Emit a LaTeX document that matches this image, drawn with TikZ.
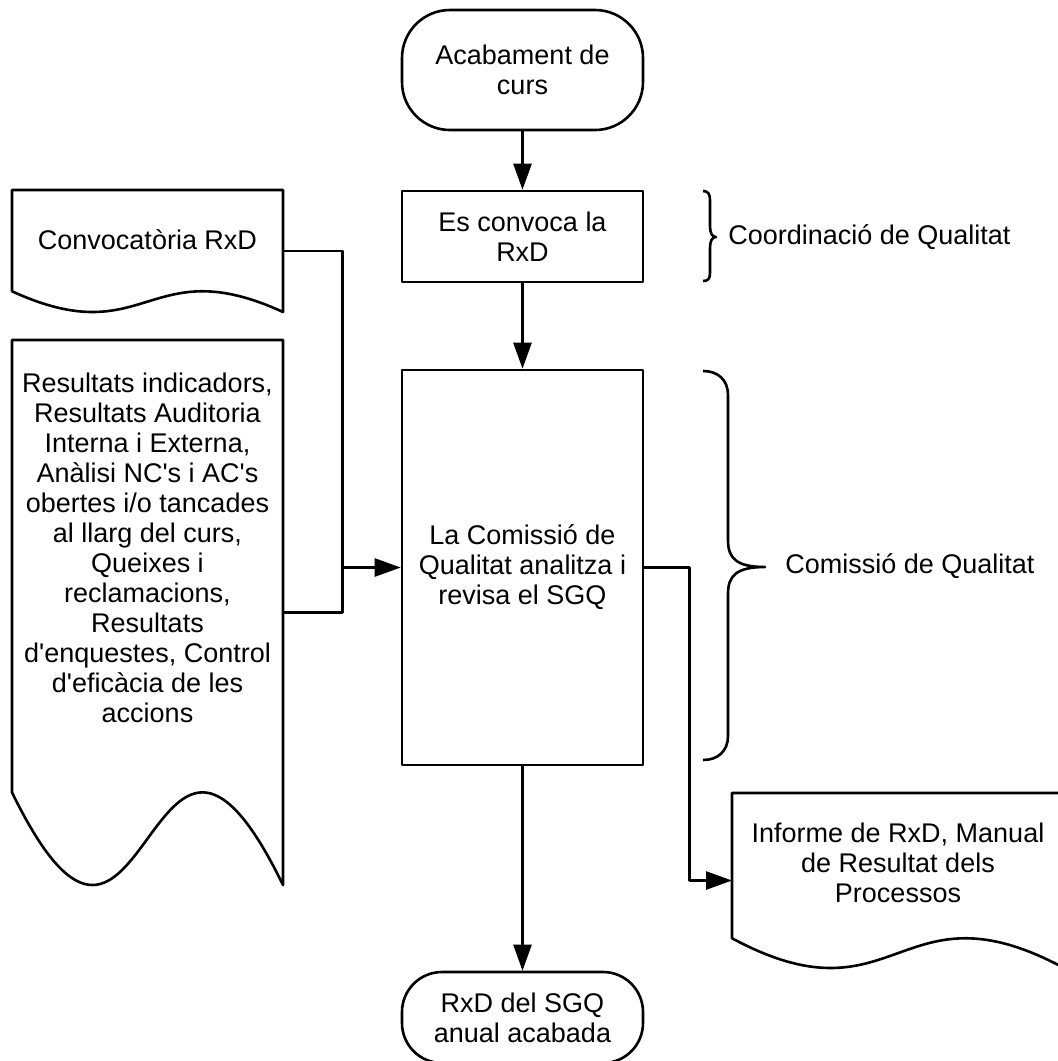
\documentclass[tikz,border=0pt]{standalone}
\usepackage{fontspec}
\setmainfont{Liberation Sans}[Ligatures=TeXOff]
\usetikzlibrary{arrows.meta,calc}

\begin{document}
\begin{tikzpicture}[x=0.5pt,y=-0.5pt]
		\tikzstyle{every node} = [font=\fontsize{13.5}{15}\selectfont, align=center]
		\tikzstyle{trait} = [line width=1.3pt, line join=round]
		\tikzstyle{terminal} = [trait, draw, rounded corners=24pt, minimum width=120.5pt, inner sep=0pt]
		\tikzstyle{proces} = [trait, draw, minimum width=120.5pt, inner sep=0pt]
		\tikzstyle{docu} = [inner sep=0pt, outer sep=0pt]
		\tikzstyle{fleche} = [trait, -{Triangle[length=13pt,width=9pt]}]
		
		\useasboundingbox (0,0) rectangle (1058,1061);
		\clip (0,0) rectangle (1058,1061);
		
		\node[terminal, minimum height=60pt](debut) at (522.5,70) {Acabament de\\curs};
		\node[proces, minimum height=45.5pt](convoca) at (522.5,236.5) {Es convoca la\\RxD};
		\node[proces, minimum height=197.5pt](revisa) at (522.5,567.5) {La Comissió de\\Qualitat analitza i\\revisa el SGQ};
		\node[terminal, minimum height=45.5pt, rounded corners=20pt](fi) at (522.5,1017.5) {RxD del SGQ\\anual acabada};
		
		\node[docu, minimum width=135.5pt, minimum height=61pt](convocatoria) at (147.5,251) {};
		\node[docu, minimum width=135.5pt, minimum height=272.5pt](resultats) at (147.5,612.5) {};
		\node[docu, minimum width=166pt, minimum height=87.5pt](informe) at (898,880.5) {};
		\foreach \d in {convocatoria,resultats,informe}
			\draw[trait] (\d.north west) -- (\d.north east) -- (\d.south east)
				.. controls ($(\d.north)!.49!(\d.south)$) and ($(\d.north)!1.34!(\d.south)$) .. ($(\d.north west)!.83!(\d.south west)$) -- cycle;
		
		\node(convocatoriatext) at ($(convocatoria.center)+(0,-11)$) {Convocatòria RxD};
		\node(resultatstext) at ($(resultats.center)+(0,-64.5)$) {Resultats indicadors,\\Resultats Auditoria\\Interna i Externa,\\Anàlisi NC's i AC's\\obertes i/o tancades\\al llarg del curs,\\Queixes i\\reclamacions,\\Resultats\\d'enquestes, Control\\d'eficàcia de les\\accions};
		\node(informetext) at ($(informe.center)+(0,-17.5)$) {Informe de RxD, Manual\\de Resultat dels\\Processos};
		
		\coordinate (j) at (342.5,567.5);
		\draw[trait] (convocatoria.east) -| (j);
		\draw[trait] (resultats.east) -| (j);
		\draw[fleche] (j) -- (revisa.west);
		
		\draw[fleche] (debut) -- (convoca);
		\draw[fleche] (convoca) -- (revisa);
		\draw[fleche] (revisa) -- (fi);
		\draw[fleche] (revisa.east) -- ++(45,0) |- (informe.west);
		
		\draw[trait] (703,191) .. controls (708,191) and (710,194) .. (710,200) -- (710,226) .. controls (710,233) and (712,237) .. (716,237)
			.. controls (712,237) and (710,241) .. (710,248) -- (710,273) .. controls (710,279) and (708,281) .. (703,281);
		\draw[trait] (703,371) .. controls (718,371) and (728,380) .. (728,395) -- (728,540) .. controls (728,558) and (736,567) .. (765,567)
			.. controls (736,567) and (728,576) .. (728,594) -- (728,736) .. controls (728,751) and (718,760) .. (703,760);
		
		\node[anchor=west, inner sep=0pt](coordinacio) at (728,237) {Coordinació de Qualitat};
		\node[anchor=west, inner sep=0pt](comissio) at (785,566) {Comissió de Qualitat};
		
		\end{tikzpicture}
\end{document}
